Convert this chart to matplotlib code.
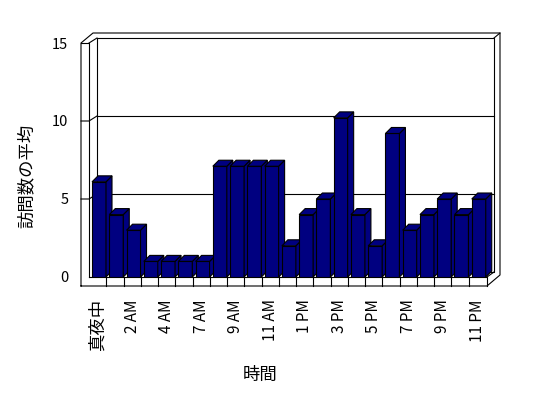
import matplotlib
matplotlib.use("Agg")
import matplotlib.pyplot as plt
from matplotlib.lines import Line2D
from matplotlib.patches import Polygon
from matplotlib.transforms import IdentityTransform

plt.rcParams["font.family"] = ["Noto Sans CJK JP", "DejaVu Sans"]

# Data
hours = ["真夜中", "1 AM", "2 AM", "3 AM", "4 AM", "6 AM", "7 AM", "8 AM",
         "9 AM", "10 AM", "11 AM", "正午", "1 PM", "2 PM", "3 PM", "4 PM",
         "5 PM", "6 PM", "7 PM", "8 PM", "9 PM", "10 PM", "11 PM"]
visits = [6.1, 4, 3, 1, 1, 1, 1, 7.1, 7.1, 7.1, 7.1, 2, 4, 5, 10.2, 4, 2,
          9.2, 3, 4, 5, 4, 5]
y_ticks = [0, 5, 10, 15]

BAR_COLOR = "#000080"
LW = 0.8
DEPTH = 6          # bar depth, pixels
BACK = (8, 5)      # offset of the back wall, pixels

fig = plt.figure(figsize=(5.48, 3.98), dpi=100)
ax = fig.add_axes([89 / 548, 121 / 398, 397 / 548, 234 / 398])
ax.set_xlim(-0.5, len(hours) - 0.5)
ax.set_ylim(0, 15)
ax.patch.set_visible(False)
for s in ax.spines.values():
    s.set_visible(False)


def P(x, v, dx=0, dy=0):
    """Data point -> display pixels, shifted by (dx, dy) pixels."""
    px, py = ax.transData.transform((x, v))
    return (px + dx, py + dy)


def line(*pts, z=1):
    xs = [p[0] for p in pts]
    ys = [p[1] for p in pts]
    ax.add_line(Line2D(xs, ys, color="black", lw=LW, transform=IdentityTransform(),
                       clip_on=False, zorder=z))


W, E, T = -0.5, len(hours) - 0.5, 15

# back wall and gridlines
line(P(W, 0, *BACK), P(W, T, *BACK), P(E, T, *BACK), P(E, 0, *BACK), P(W, 0, *BACK))
for v in y_ticks[1:-1]:
    line(P(W, v, *BACK), P(E, v, *BACK))

# outer slab edges
line(P(W, 0, -8, -9), P(W, T, -8, 0), P(W, T, 4, 10), P(E, T, 14, 10),
     P(E, 0, 14, 2), P(E, 0, 1, -9), P(W, 0, -8, -9))
line(P(W, T, -8, 0), P(W, T), P(W, 0))
line(P(W, T), P(W, T, *BACK))
line(P(E, T, *BACK), P(E, T, 14, 10))

# left wall ticks
for v in y_ticks[1:-1]:
    line(P(W, v, -8, 0), P(W, v), P(W, v, *BACK))

# floor
line(P(W, 0), P(E, 0, 1, 0), P(E, 0, 1, -9))
line(P(E, 0, 1, 0), P(E, 0, *BACK))
for k in range(len(hours) - 1):
    line(P(k + 0.5, 0), P(k + 0.5, 0, 0, -9))

# bars with 3D faces
bars = ax.bar([i + 0.08 for i in range(len(hours))], visits, width=0.81,
              color=BAR_COLOR, edgecolor="black", lw=LW)
for i, (b, v) in enumerate(zip(bars, visits)):
    b.set_zorder(3 + i)
    xl, xr = b.get_x(), b.get_x() + b.get_width()
    side = [P(xr, 0), P(xr, v), P(xr, v, DEPTH, DEPTH), P(xr, 0, DEPTH, DEPTH)]
    top = [P(xl, v), P(xr, v), P(xr, v, DEPTH, DEPTH), P(xl, v, DEPTH, DEPTH)]
    for pts in (side, top):
        ax.add_patch(Polygon(pts, closed=True, facecolor=BAR_COLOR, edgecolor="black",
                             lw=LW, transform=IdentityTransform(), clip_on=False,
                             zorder=3 + i))

# ticks
ax.set_yticks(y_ticks)
ax.set_yticklabels([str(t) for t in y_ticks], fontsize=10.5)
ax.tick_params(axis="y", length=0, pad=15)
ax.set_xticks(range(len(hours)))
ax.set_xticklabels(hours, rotation=90, fontsize=11)
ax.tick_params(axis="x", length=0, pad=16)
for i, lab in enumerate(ax.get_xticklabels()):
    if i % 2:
        lab.set_visible(False)
    if lab.get_text() == "真夜中":
        lab.set_fontsize(12.5)

# axis titles
fig.text(27 / 548, 1 - 176 / 398, "訪問数の平均", rotation=90, ha="center",
         va="center", fontsize=12.5)
fig.text(260 / 548, 1 - 375 / 398, "時間", ha="center", va="center", fontsize=12.5)

fig.savefig("out.png", dpi=100)
